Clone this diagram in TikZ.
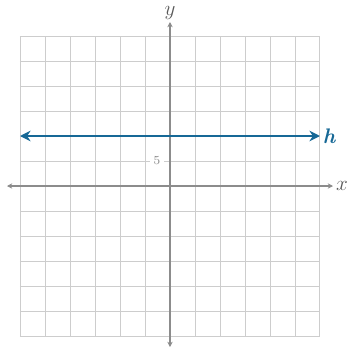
\documentclass[tikz,border=0pt]{standalone}
\usetikzlibrary{arrows.meta}
\definecolor{lineblue}{RGB}{22,104,150}
\definecolor{gridgray}{RGB}{205,205,205}
\definecolor{axisgray}{RGB}{140,140,140}
\tikzset{
  gridline/.style={gridgray, line width=0.55pt},
  axisline/.style={axisgray, line width=0.8pt, -{Stealth[length=3pt, width=3pt]}},
  hline/.style={lineblue, line width=1.4pt, {Stealth[length=6pt, width=6pt]}-{Stealth[length=6pt, width=6pt]}},
  axislabel/.style={font=\large, text=black!65, inner sep=1pt},
}
\begin{document}
\begin{tikzpicture}[x=0.5cm, y=0.5cm]
  \useasboundingbox (-6.8,-6.52) rectangle (7.12,7.44);
  \draw[gridline, step=0.5cm] (-6,-6) grid (6,6);
  \coordinate (O) at (0,0);
  \coordinate (xleft) at (-6.52,0);
  \coordinate (xright) at (6.52,0);
  \coordinate (ytop) at (0,6.56);
  \coordinate (ybot) at (0,-6.44);
  \draw[axisline] (O) -- (xright);
  \draw[axisline] (O) -- (xleft);
  \draw[axisline] (O) -- (ytop);
  \draw[axisline] (O) -- (ybot);
  \node[axislabel] (xlab) at (6.88,0) {$x$};
  \node[axislabel] (ylab) at (0,6.9) {$y$};
  \node[fill=white, inner sep=2pt, font=\scriptsize, text=axisgray] (five) at (-0.52,1) {5};
  \coordinate (hleft) at (-6,2);
  \coordinate (hright) at (6,2);
  \draw[hline] (hleft) -- (hright);
  \node[font=\large\bfseries\itshape, text=lineblue, inner sep=1pt] (hlab) at (6.36,2) {h};
\end{tikzpicture}
\end{document}
